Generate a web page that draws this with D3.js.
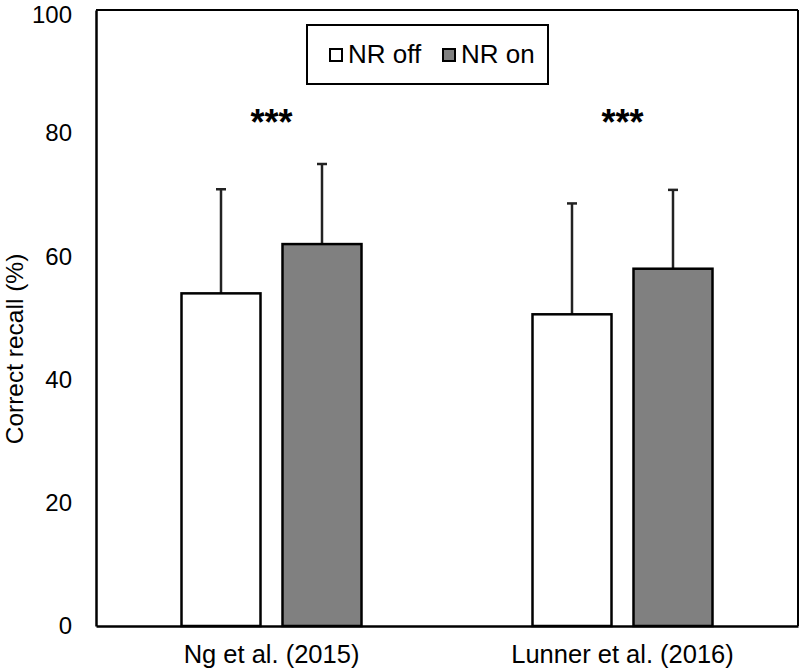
<!DOCTYPE html>
<html><head><meta charset="utf-8">
<script src="https://cdn.jsdelivr.net/npm/d3@7"></script>
<style>body{margin:0;background:#fff;} svg{display:block;font-family:"Liberation Sans",Arial,sans-serif;}</style>
</head><body>
<svg id="c" width="800" height="671"></svg>
<script>
const categories = ["Ng et al. (2015)", "Lunner et al. (2016)"];
const series = ["NR off", "NR on"];
const means = [[54.0, 62.0], [50.6, 58.0]];
const errorTops = [[70.9, 75.0], [68.6, 70.8]];
const significance = ["***", "***"];
const yTicks = [0, 20, 40, 60, 80, 100];
const fills = ["#ffffff", "#808080"];

const svg = d3.select("#c");
const m = {l: 96, r: 2, t: 10, b: 45};
const W = 800, H = 671;
const x = d3.scaleBand().domain(categories).range([m.l, W - m.r]).paddingInner(0).paddingOuter(0);
const y = d3.scaleLinear().domain([0, 100]).range([H - m.b, m.t]);
const barW = 79, gap = 22;

// frame top & right
svg.append("line").attr("x1", m.l).attr("x2", W - m.r).attr("y1", y(100)).attr("y2", y(100)).attr("stroke", "#000").attr("stroke-width", 2);
svg.append("line").attr("x1", W - m.r).attr("x2", W - m.r).attr("y1", y(100)).attr("y2", y(0)).attr("stroke", "#000").attr("stroke-width", 2);

const groups = svg.selectAll("g.grp").data(categories).enter().append("g")
  .attr("transform", d => `translate(${x(d) + x.bandwidth() / 2 - (2 * barW + gap) / 2},0)`);

groups.each(function(cat, ci) {
  const g = d3.select(this);
  series.forEach((s, si) => {
    const bx = si * (barW + gap);
    g.append("line").attr("x1", bx + barW / 2).attr("x2", bx + barW / 2)
      .attr("y1", y(means[ci][si])).attr("y2", y(errorTops[ci][si]))
      .attr("stroke", "#222").attr("stroke-width", 2.5);
    g.append("line").attr("x1", bx + barW / 2 - 5).attr("x2", bx + barW / 2 + 5)
      .attr("y1", y(errorTops[ci][si])).attr("y2", y(errorTops[ci][si]))
      .attr("stroke", "#222").attr("stroke-width", 2.5);
    g.append("rect").attr("x", bx).attr("width", barW)
      .attr("y", y(means[ci][si])).attr("height", y(0) - y(means[ci][si]))
      .attr("fill", fills[si]).attr("stroke", "#000").attr("stroke-width", 2.5);
  });
  g.append("text").attr("x", barW + gap / 2).attr("y", 135).attr("text-anchor", "middle")
    .attr("font-size", 36).attr("font-weight", "bold").text(significance[ci]);
});

// y axis
const yAxis = d3.axisLeft(y).tickValues(yTicks).tickSize(0).tickPadding(24);
const ya = svg.append("g").attr("transform", `translate(${m.l},0)`).call(yAxis);
ya.select(".domain").attr("stroke", "#000").attr("stroke-width", 2.5);
ya.selectAll("text").attr("font-size", 24).attr("fill", "#000").attr("font-family", "Liberation Sans, Arial, sans-serif");
ya.selectAll(".tick").filter(d => d === 100).select("text").attr("dy", "0.5em");

// x axis
const xAxis = d3.axisBottom(x).tickSize(0).tickPadding(19);
const xa = svg.append("g").attr("transform", `translate(0,${y(0)})`).call(xAxis);
xa.select(".domain").attr("stroke", "#000").attr("stroke-width", 2.5);
xa.selectAll("text").attr("font-size", 25.5).attr("fill", "#000").attr("font-family", "Liberation Sans, Arial, sans-serif");

// y title
svg.append("text").attr("transform", `translate(23,349) rotate(-90)`).attr("text-anchor", "middle")
  .attr("font-size", 24.5).text("Correct recall (%)");

// legend
const lg = svg.append("g");
lg.append("rect").attr("x", 307).attr("y", 25).attr("width", 241).attr("height", 59)
  .attr("fill", "#fff").attr("stroke", "#000").attr("stroke-width", 2);
const lx = [329, 442];
series.forEach((s, i) => {
  lg.append("rect").attr("x", lx[i] + 1).attr("y", 49).attr("width", 12).attr("height", 12)
    .attr("fill", fills[i]).attr("stroke", "#000").attr("stroke-width", 2);
  lg.append("text").attr("x", lx[i] + 19).attr("y", 63).attr("font-size", 26).text(s);
});
</script>
</body></html>
